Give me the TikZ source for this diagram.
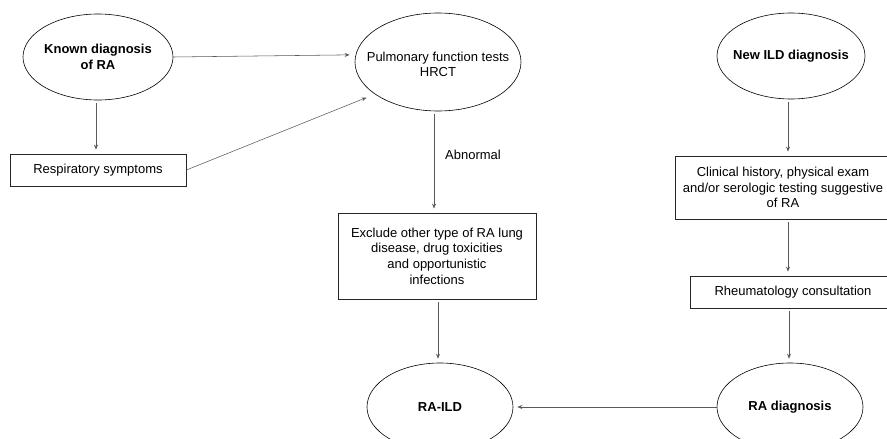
\documentclass[tikz,border=0pt]{standalone}
\usepackage{fontspec}
\setmainfont{Liberation Sans}
\usetikzlibrary{shapes.geometric,arrows.meta}
\begin{document}
\begin{tikzpicture}[x=1pt,y=-1pt,
  txt/.style={font=\fontsize{13}{15.7}\selectfont, align=center},
  oval/.style={ellipse, draw=black, line width=0.6pt, inner sep=0pt},
  stepbox/.style={rectangle, draw=black!85, line width=0.8pt, inner sep=0pt, txt},
  arr/.style={draw=black!65, line width=0.55pt, -{Stealth[length=5pt,width=4pt]}, shorten <=3pt, shorten >=4pt}]
\useasboundingbox (0,0) rectangle (887,439);
\clip (0,0) rectangle (887,439);
% ellipses
\node[oval, minimum width=150pt, minimum height=86pt, label={[txt]center:\textbf{Known diagnosis}\\\textbf{of RA}}] (known) at (98,57) {};
\node[oval, minimum width=166pt, minimum height=98pt, label={[txt,yshift=-2.5pt]center:Pulmonary function tests\\HRCT}] (pulm) at (438,62) {};
\node[oval, minimum width=148pt, minimum height=86pt, label={[txt]center:\textbf{New ILD diagnosis}}] (new) at (791,56) {};
\node[oval, minimum width=146pt, minimum height=88pt, label={[txt]center:\textbf{RA-ILD}}] (raild) at (440,407) {};
\node[oval, minimum width=146pt, minimum height=88pt, label={[txt]center:\textbf{RA diagnosis}}] (radiag) at (790,407) {};
% boxes
\node[stepbox, minimum width=176pt, minimum height=32pt] (resp) at (98,170) {Respiratory symptoms};
\node[stepbox, minimum width=198pt, minimum height=86pt] (excl) at (437,256) {Exclude other type of RA lung\\disease, drug toxicities\\and opportunistic\\infections};
\node[stepbox, minimum width=216pt, minimum height=63pt] (clin) at (783,187.5) {Clinical history, physical exam\\and/or serologic testing suggestive\\of RA};
\node[stepbox, minimum width=206pt, minimum height=32pt] (rheum) at (793,292) {Rheumatology consultation};
% label
\node[txt] (abn) at (473,155) {Abnormal};
% connectors
\draw[arr, shorten <=0pt, shorten >=6pt] (known.east) -- (pulm.175);
\draw[arr, shorten <=0pt, shorten >=9pt] (resp.east) -- (pulm.207);
\draw[arr] ([xshift=-2pt]known.south) -- ([xshift=-2pt]known.south |- resp.north);
\draw[arr] ([xshift=-4pt]pulm.south) -- ([xshift=-4pt]pulm.south |- excl.north);
\draw[arr] ([xshift=1pt]excl.south) -- ([xshift=1pt]excl.south |- raild.north);
\draw[arr] ([xshift=-3pt]new.south) -- ([xshift=-3pt]new.south |- clin.north);
\draw[arr] ([xshift=-3pt]new.south |- clin.south) -- ([xshift=-3pt]new.south |- rheum.north);
\draw[arr] ([xshift=-1pt]radiag.north |- rheum.south) -- ([xshift=-1pt]radiag.north);
\draw[arr, shorten <=0pt] (radiag.west) -- (raild.east);
\end{tikzpicture}
\end{document}
